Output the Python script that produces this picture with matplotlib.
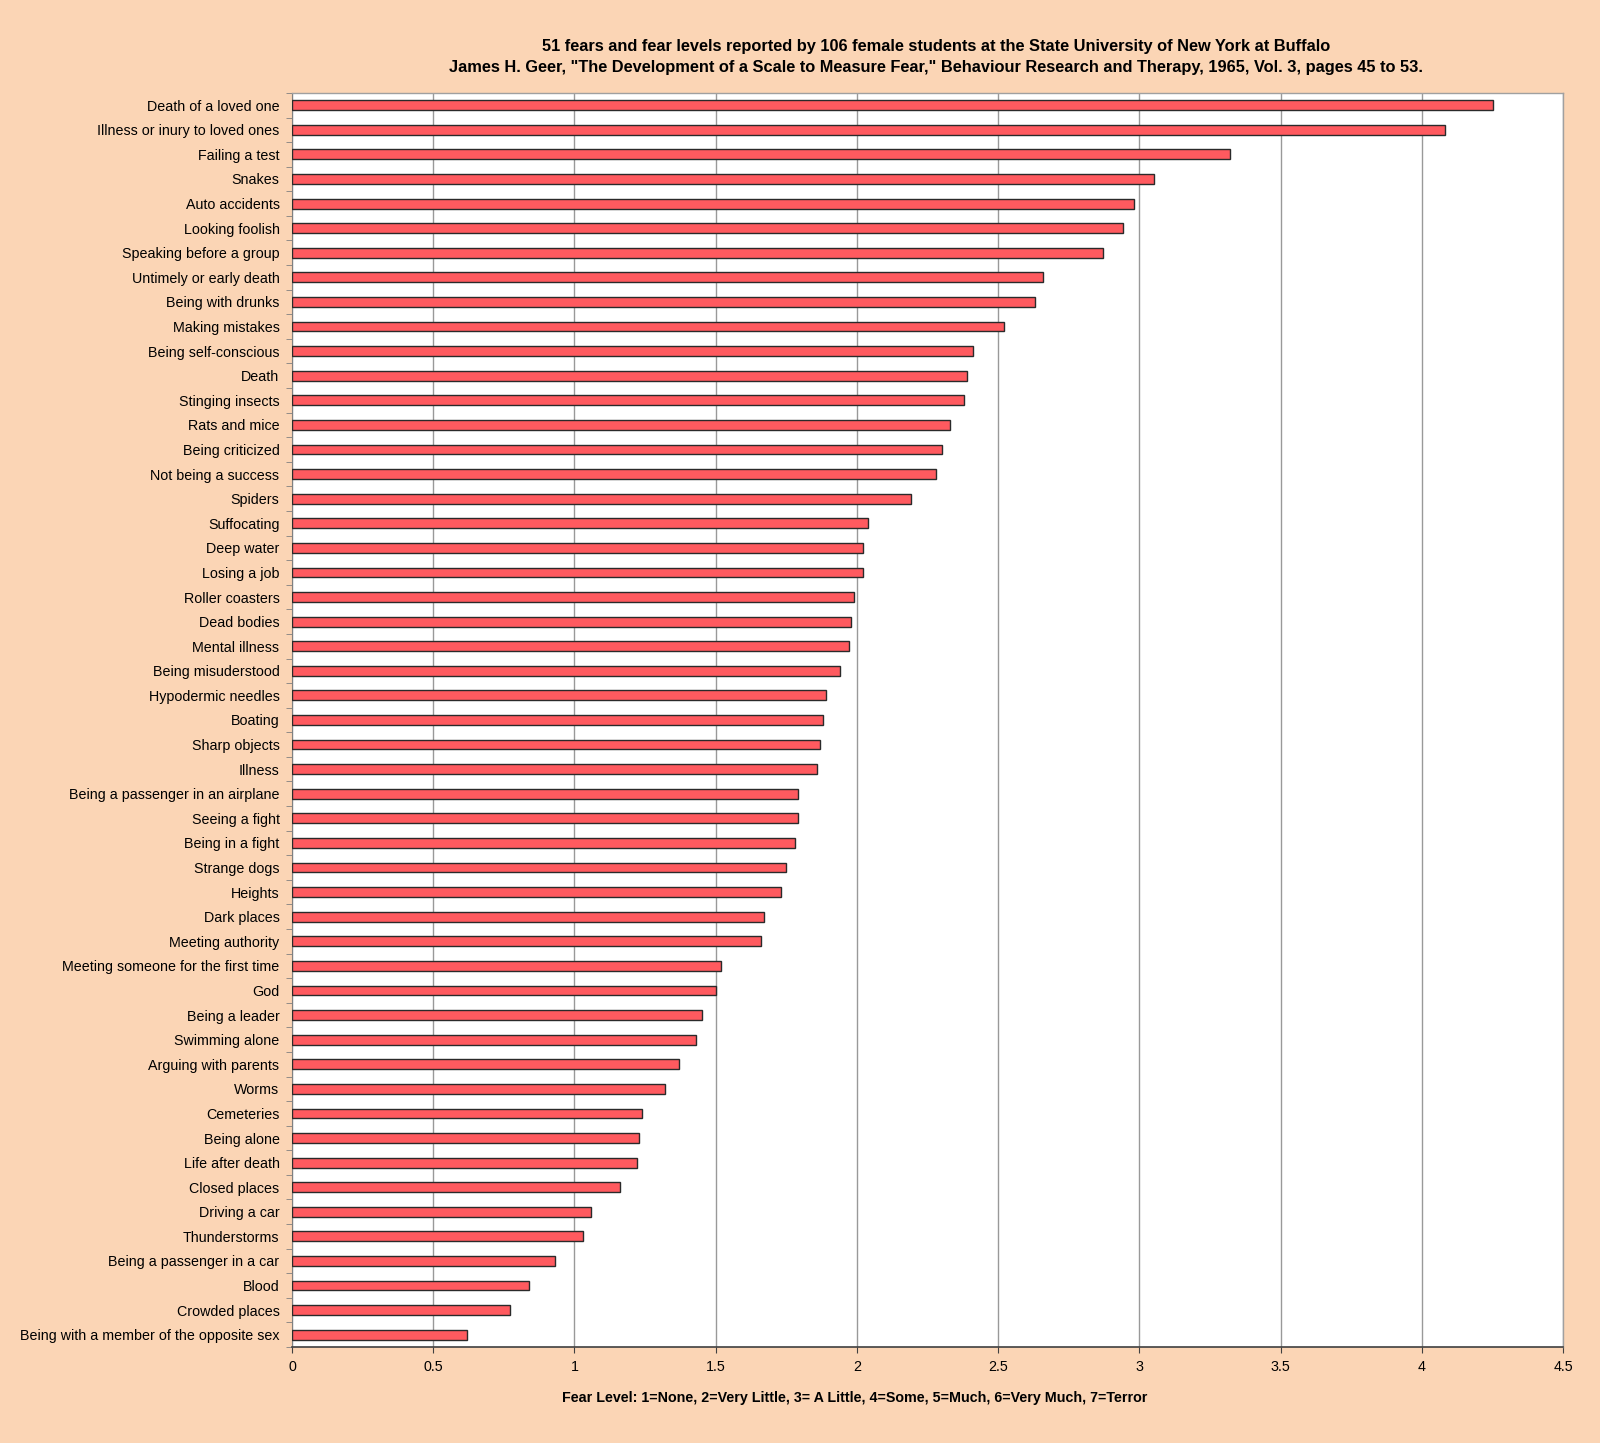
import matplotlib
matplotlib.use("Agg")
import matplotlib.pyplot as plt
import numpy as np

plt.rcParams['font.family'] = ['Liberation Sans', 'DejaVu Sans']

fears = [
    "Death of a loved one", "Illness or inury to loved ones", "Failing a test", "Snakes",
    "Auto accidents", "Looking foolish", "Speaking before a group", "Untimely or early death",
    "Being with drunks", "Making mistakes", "Being self-conscious", "Death",
    "Stinging insects", "Rats and mice", "Being criticized", "Not being a success",
    "Spiders", "Suffocating", "Deep water", "Losing a job", "Roller coasters",
    "Dead bodies", "Mental illness", "Being misuderstood", "Hypodermic needles",
    "Boating", "Sharp objects", "Illness", "Being a passenger in an airplane",
    "Seeing a fight", "Being in a fight", "Strange dogs", "Heights", "Dark places",
    "Meeting authority", "Meeting someone for the first time", "God", "Being a leader",
    "Swimming alone", "Arguing with parents", "Worms", "Cemeteries", "Being alone",
    "Life after death", "Closed places", "Driving a car", "Thunderstorms",
    "Being a passenger in a car", "Blood", "Crowded places",
    "Being with a member of the opposite sex",
]
levels = [
    4.25, 4.08, 3.32, 3.05, 2.98, 2.94, 2.87, 2.66,
    2.63, 2.52, 2.41, 2.39, 2.38, 2.33, 2.30, 2.28,
    2.19, 2.04, 2.02, 2.02, 1.99, 1.98, 1.97, 1.94, 1.89,
    1.88, 1.87, 1.86, 1.79, 1.79, 1.78, 1.75, 1.73, 1.67,
    1.66, 1.52, 1.50, 1.45, 1.43, 1.37, 1.32, 1.24, 1.23,
    1.22, 1.16, 1.06, 1.03, 0.93, 0.84, 0.77, 0.62,
]
xticks = [0, 0.5, 1, 1.5, 2, 2.5, 3, 3.5, 4, 4.5]
xtick_labels = ["0", "0.5", "1", "1.5", "2", "2.5", "3", "3.5", "4", "4.5"]

title = ("51 fears and fear levels reported by 106 female students at the State University of New York at Buffalo\n"
         "James H. Geer, \"The Development of a Scale to Measure Fear,\" Behaviour Research and Therapy, 1965, Vol. 3, pages 45 to 53.")
xlabel = "Fear Level: 1=None, 2=Very Little, 3= A Little, 4=Some, 5=Much, 6=Very Much, 7=Terror"

bg = "#FBD5B5"
fig = plt.figure(figsize=(16, 14.43), dpi=100, facecolor=bg)
ax = fig.add_axes([0.1825, 0.0665, 0.977 - 0.1825, 0.9356 - 0.0665])
ax.set_facecolor("white")

y = np.arange(len(fears))
ax.barh(y, levels, height=0.4, color="#FF5A5F", edgecolor="#2a2a2a", linewidth=1.0, zorder=3)

ax.set_ylim(len(fears) - 0.5, -0.5)
ax.set_xlim(0, 4.5)
ax.set_yticks(y)
ax.set_yticklabels(fears, fontsize=10.3)
ax.set_yticks(np.arange(-0.5, len(fears), 1.0), minor=True)
ax.tick_params(axis='y', which='major', length=0, pad=9)
ax.tick_params(axis='y', which='minor', length=4, color="#808080", direction='out')
ax.set_xticks(xticks)
ax.set_xticklabels(xtick_labels, fontsize=10.3)
ax.tick_params(axis='x', which='major', length=4, color="#404040", direction='out', pad=5)

ax.grid(axis='x', color="#999999", linewidth=1.0, zorder=0)
ax.set_axisbelow(True)

for s in ['top', 'right']:
    ax.spines[s].set_color("#a0a0a0")
    ax.spines[s].set_linewidth(1.0)
ax.spines['left'].set_color("#808080")
ax.spines['bottom'].set_color("#404040")
ax.spines['bottom'].set_linewidth(1.2)

fig.text(0.585, 0.9605, title, ha='center', va='center', fontsize=11.8,
         fontweight='bold', linespacing=1.45)
fig.text(0.534, 0.0315, xlabel, ha='center', va='center', fontsize=10.3, fontweight='bold')

fig.savefig("out.png", dpi=100, facecolor=bg)
